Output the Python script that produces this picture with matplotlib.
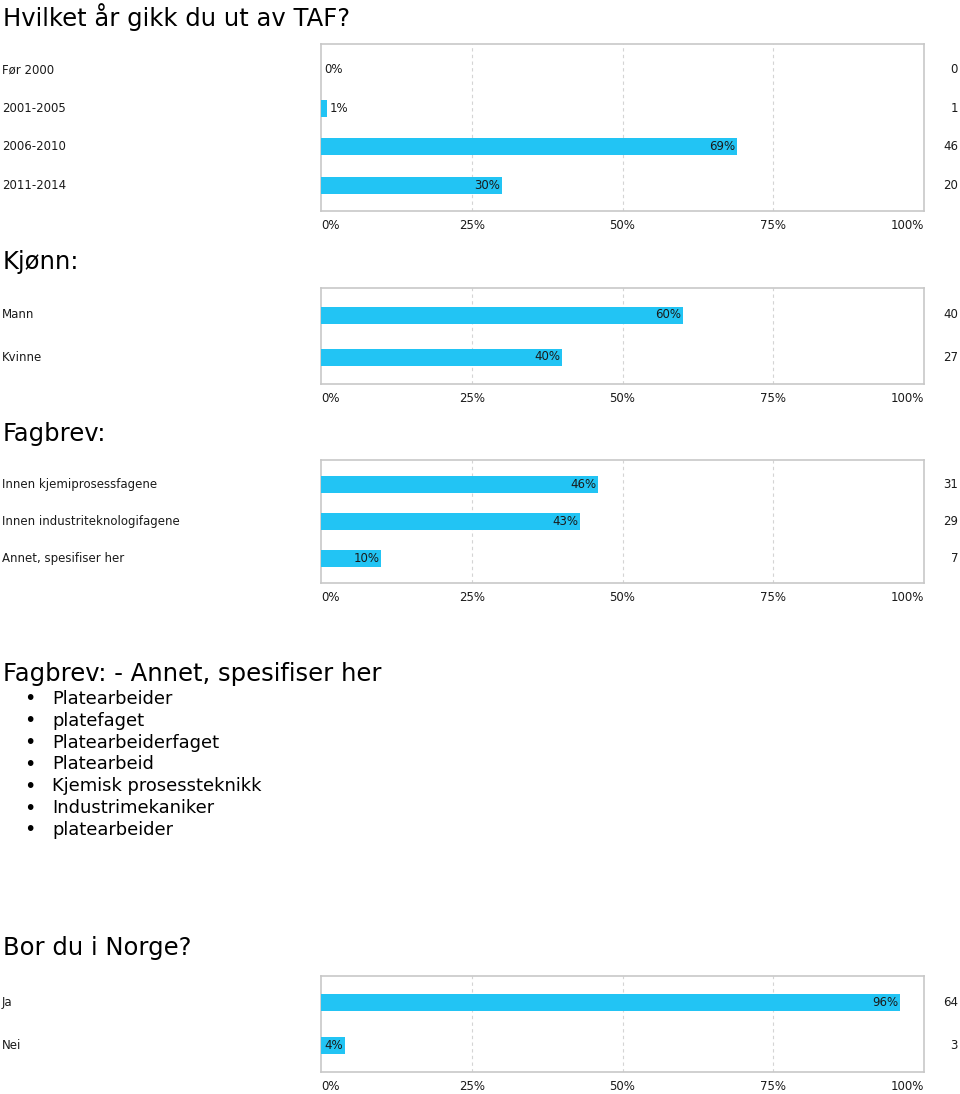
import numpy as np
import matplotlib
matplotlib.use('Agg')
import matplotlib.pyplot as plt

W, H = 960, 1094

# Data
aar_labels = ['Før 2000', '2001-2005', '2006-2010', '2011-2014']
aar_pct = [0, 1, 69, 30]
aar_count = [0, 1, 46, 20]

kjonn_labels = ['Mann', 'Kvinne']
kjonn_pct = [60, 40]
kjonn_count = [40, 27]

fagbrev_labels = ['Innen kjemiprosessfagene', 'Innen industriteknologifagene',
                  'Annet, spesifiser her']
fagbrev_pct = [46, 43, 10]
fagbrev_count = [31, 29, 7]

annet_svar = ['Platearbeider', 'platefaget', 'Platearbeiderfaget', 'Platearbeid',
              'Kjemisk prosessteknikk', 'Industrimekaniker', 'platearbeider']

norge_labels = ['Ja', 'Nei']
norge_pct = [96, 4]
norge_count = [64, 3]

xticks = [0, 25, 50, 75, 100]

BAR = '#22c4f4'
FRAME = '#c8c8c8'
TXT = '#1a1a1a'
FONT = 'DejaVu Sans'

fig = plt.figure(figsize=(W / 100, H / 100), dpi=100)


def title(y_px, s, size=17.5):
    fig.text(3 / W, 1 - y_px / H, s, family=FONT, fontsize=size,
             color='black', va='center', ha='left')


def chart(top, bottom, labels, pct, count, spacing, bar_px=17):
    left, right = 321, 924
    ax = fig.add_axes([left / W, 1 - bottom / H, (right - left) / W, (bottom - top) / H])
    n = len(labels)
    units = (bottom - top) / spacing
    m = (units - (n - 1)) / 2
    y = np.arange(n)
    ax.barh(y, pct, height=bar_px / spacing, color=BAR, zorder=3)
    ax.set_xlim(0, 100)
    ax.set_ylim(n - 1 + m, -m)
    for v in [25, 50, 75]:
        ax.axvline(v, color='#d4d4d4', lw=0.8, ls=(0, (3, 3)), zorder=1)
    ax.set_xticks(xticks)
    ax.set_xticklabels(['%d%%' % t for t in xticks], family=FONT,
                       fontsize=8.5, color=TXT)
    lbls = ax.get_xticklabels()
    lbls[0].set_ha('left')
    lbls[-1].set_ha('right')
    ax.tick_params(axis='x', length=0, pad=6)
    ax.set_yticks([])
    for s in ax.spines.values():
        s.set_color(FRAME)
        s.set_linewidth(1.2)
    px_per_pct = (right - left) / 100
    for i in range(n):
        yl = 1 - (top + (m + i) * spacing) / H
        fig.text(2 / W, yl, labels[i], family=FONT, fontsize=8.5,
                 color=TXT, va='center', ha='left')
        fig.text(958 / W, yl, str(count[i]), family=FONT, fontsize=8.5,
                 color=TXT, va='center', ha='right')
        if pct[i] * px_per_pct > 20:
            ax.text(pct[i] - 0.3, i, '%d%%' % pct[i], family=FONT,
                    fontsize=8.5, color=TXT, va='center', ha='right', zorder=4)
        else:
            ax.text(pct[i] + 0.5, i, '%d%%' % pct[i], family=FONT,
                    fontsize=8.5, color=TXT, va='center', ha='left', zorder=4)
    return ax


title(17, 'Hvilket år gikk du ut av TAF?')
chart(44, 211, aar_labels, aar_pct, aar_count, 38.5)

title(262, 'Kjønn:')
chart(288, 384, kjonn_labels, kjonn_pct, kjonn_count, 42)

title(434, 'Fagbrev:')
chart(460, 583, fagbrev_labels, fagbrev_pct, fagbrev_count, 37)

title(674, 'Fagbrev: - Annet, spesifiser her')
for i, s in enumerate(annet_svar):
    y = 1 - (699 + i * 21.8) / H
    fig.text(30 / W, y, '\u2022', family=FONT, fontsize=14, va='center', ha='center')
    fig.text(52 / W, y, s, family=FONT, fontsize=12.9, va='center', ha='left')

title(948, 'Bor du i Norge?')
chart(976, 1072, norge_labels, norge_pct, norge_count, 43)

fig.savefig('out.png', dpi=100)
